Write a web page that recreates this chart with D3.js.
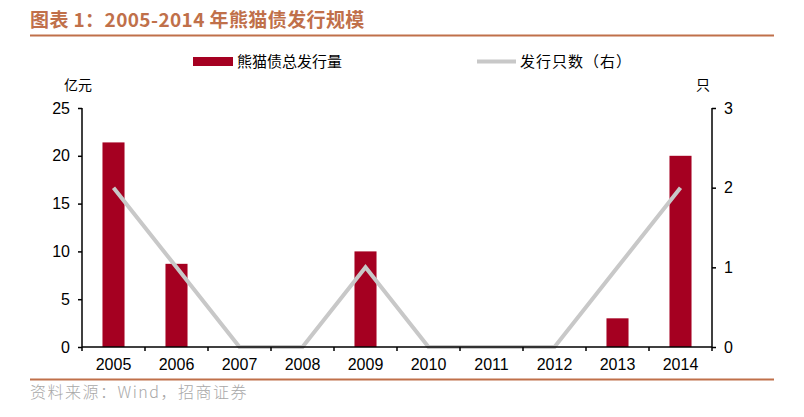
<!DOCTYPE html>
<html><head><meta charset="utf-8">
<script src="https://cdn.jsdelivr.net/npm/d3@7"></script>
<style>body{margin:0;background:#fff}</style>
</head><body>
<svg id="c" width="804" height="417"></svg>
<script>
const years = ["2005","2006","2007","2008","2009","2010","2011","2012","2013","2014"];
const amount = [21.4, 8.7, 0, 0, 10, 0, 0, 0, 3, 20];
const counts = [2, 1, 0, 0, 1, 0, 0, 0, 1, 2];
const leftTicks = [0,5,10,15,20,25];
const rightTicks = [0,1,2,3];

(function(){
const svg = d3.select("#c");
const font = "'Liberation Sans', Arial, sans-serif";
const cjk = "'Noto Sans CJK SC', sans-serif";
const titleColor = "#c0704a";

svg.append("text").attr("x",30).attr("y",27).attr("font-family",cjk).attr("font-weight","bold")
  .attr("font-size",19).attr("letter-spacing",0.4).attr("fill",titleColor).text("图表 1：2005-2014 年熊猫债发行规模");
svg.append("line").attr("x1",30).attr("x2",774).attr("y1",35.5).attr("y2",35.5).attr("stroke",titleColor).attr("stroke-width",2);
svg.append("line").attr("x1",30).attr("x2",774).attr("y1",379.5).attr("y2",379.5).attr("stroke",titleColor).attr("stroke-width",2);
svg.append("text").attr("x",30).attr("y",398).attr("font-family",cjk).attr("font-size",16).attr("font-weight",300)
  .attr("letter-spacing",1.5).attr("fill","#a8a8a8").text("资料来源：Wind，招商证券");

const L=82, R=712, T=108, B=347;
const x = d3.scaleBand().domain(years).range([L,R]).paddingInner(0.65).paddingOuter(0.325);
const xs = d3.scaleBand().domain(years).range([L,R]);
const yL = d3.scaleLinear().domain([0,25]).range([B,T]);
const yR = d3.scaleLinear().domain([0,3]).range([B,T]);

svg.append("g").selectAll("rect").data(years).join("rect")
  .attr("x",d=>x(d)).attr("width",x.bandwidth())
  .attr("y",(d,i)=>yL(amount[i])).attr("height",(d,i)=>B-yL(amount[i]))
  .attr("fill","#a50021");

const line = d3.line().x((d,i)=>xs(years[i])+xs.bandwidth()/2).y(d=>yR(d));
svg.append("path").datum(counts).attr("d",line).attr("fill","none")
  .attr("stroke","#c8c8c8").attr("stroke-width",4);

const gL = svg.append("g").attr("transform",`translate(${L},0)`)
  .call(d3.axisLeft(yL).tickValues(leftTicks).tickFormat(d3.format("d")).tickSize(4).tickPadding(8));
const gR = svg.append("g").attr("transform",`translate(${R},0)`)
  .call(d3.axisRight(yR).tickValues(rightTicks).tickFormat(d3.format("d")).tickSize(4).tickPadding(8));
const gX = svg.append("g").attr("transform",`translate(0,${B})`)
  .call(d3.axisBottom(xs).tickSize(0).tickPadding(12));
svg.append("g").selectAll("line").data(d3.range(years.length+1)).join("line")
  .attr("x1",i=>L+i*xs.step()).attr("x2",i=>L+i*xs.step())
  .attr("y1",B).attr("y2",B+4).attr("stroke","#000").attr("stroke-width",1.5);
[gL,gR,gX].forEach(g=>{
  g.attr("font-family",font);
  g.selectAll("path").attr("stroke","#000").attr("stroke-width",1.5);
  g.selectAll("line").attr("stroke","#000").attr("stroke-width",1.5);
  g.selectAll("text").attr("font-family",font).attr("font-size",16).attr("fill","#000");
});
gL.select(".domain").attr("d",`M0,${B}V${T}`);
gR.select(".domain").attr("d",`M0,${B}V${T}`);
gX.select(".domain").attr("d",`M${L},0H${R}`);

svg.append("text").attr("x",78).attr("y",90).attr("text-anchor","middle").attr("font-family",cjk)
  .attr("font-size",14).attr("fill","#000").text("亿元");
svg.append("text").attr("x",703).attr("y",90).attr("text-anchor","middle").attr("font-family",cjk)
  .attr("font-size",14).attr("fill","#000").text("只");

svg.append("rect").attr("x",193).attr("y",57).attr("width",40).attr("height",9).attr("fill","#a50021");
svg.append("text").attr("x",237).attr("y",67).attr("font-family",cjk).attr("font-size",15).attr("fill","#000").text("熊猫债总发行量");
svg.append("line").attr("x1",477).attr("x2",516).attr("y1",61.5).attr("y2",61.5).attr("stroke","#c8c8c8").attr("stroke-width",4);
svg.append("text").attr("x",520).attr("y",67).attr("font-family",cjk).attr("font-size",15).attr("letter-spacing",1).attr("fill","#000").text("发行只数（右）");
})();
</script>
</body></html>
